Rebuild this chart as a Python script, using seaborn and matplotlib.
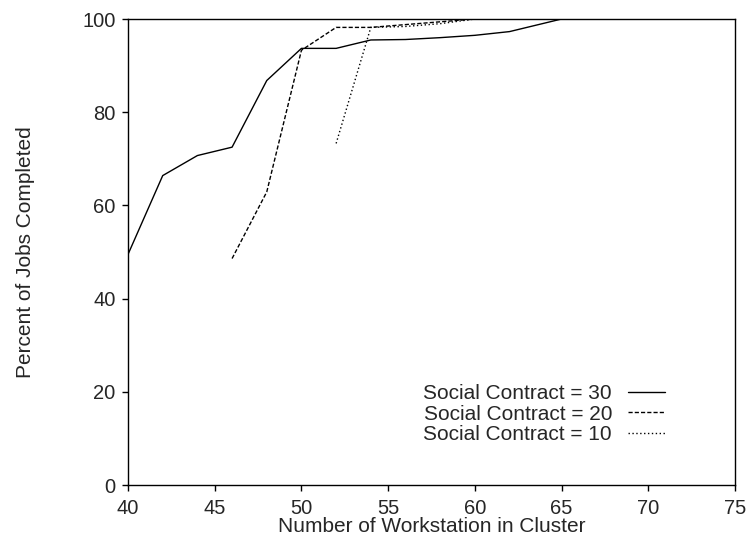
import numpy as np
import pandas as pd
import matplotlib
matplotlib.use("Agg")
import matplotlib.pyplot as plt
import seaborn as sns

# Data
x30 = [40, 42, 44, 46, 48, 50, 52, 54, 56, 58, 60, 62, 65, 70, 75]
y30 = [49.5, 66.4, 70.7, 72.5, 86.8, 93.7, 93.7, 95.5, 95.6, 96.0, 96.5, 97.3, 100, 100, 100]
x20 = [46, 48, 50, 52, 54, 56, 58, 60, 65, 70, 75]
y20 = [48.6, 62.9, 93.3, 98.2, 98.2, 98.8, 99.4, 100, 100, 100, 100]
x10 = [52, 54, 56, 58, 60, 65, 70, 75]
y10 = [73.3, 98.2, 98.4, 99.0, 100, 100, 100, 100]
labels = ["Social Contract = 30", "Social Contract = 20", "Social Contract = 10"]
xticks = [40, 45, 50, 55, 60, 65, 70, 75]
yticks = [0, 20, 40, 60, 80, 100]

df = pd.concat([
    pd.DataFrame({"x": x30, "y": y30, "series": labels[0]}),
    pd.DataFrame({"x": x20, "y": y20, "series": labels[1]}),
    pd.DataFrame({"x": x10, "y": y10, "series": labels[2]}),
])

sns.set_style("ticks")
plt.rcParams["font.family"] = ["Liberation Sans", "DejaVu Sans"]
plt.rcParams["font.size"] = 15

fig = plt.figure(figsize=(7.5, 5.37), dpi=100)
ax = fig.add_axes([0.1707, 0.0968, 0.8093, 0.8678])

dash_map = {labels[0]: "", labels[1]: (3, 1.5), labels[2]: (1, 1.8)}
sns.lineplot(data=df, x="x", y="y", style="series", dashes=dash_map,
             color="black", linewidth=1.0, ax=ax, sort=False, legend=False)

handles = [plt.Line2D([], [], color="black", lw=1.0),
           plt.Line2D([], [], color="black", lw=1.0, dashes=(3, 1.5)),
           plt.Line2D([], [], color="black", lw=1.0, dashes=(1, 1.8))]
ax.legend(handles, labels, loc="center right", bbox_to_anchor=(0.885, 0.152),
          frameon=False, markerfirst=False, handlelength=1.8,
          handletextpad=0.75, labelspacing=0.07, fontsize=15,
          borderaxespad=0, borderpad=0)

ax.set_xlim(40, 75)
ax.set_ylim(0, 100)
ax.set_xticks(xticks)
ax.set_yticks(yticks)
ax.set_xlabel("Number of Workstation in Cluster", fontsize=15, labelpad=-1)
ax.set_ylabel("Percent of Jobs Completed", fontsize=15, labelpad=34)
ax.tick_params(axis="x", direction="out", length=4.5, width=1, labelsize=14.5, pad=5.5, color="black")
ax.tick_params(axis="y", direction="out", length=4.5, width=1, labelsize=14.5, pad=4.5, color="black")
for s in ax.spines.values():
    s.set_linewidth(1.0)
    s.set_color("black")

fig.savefig("out.png", dpi=100)
